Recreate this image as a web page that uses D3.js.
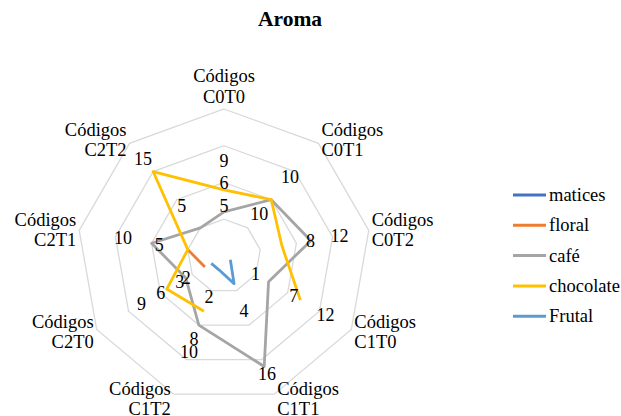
<!DOCTYPE html>
<html>
<head>
<meta charset="utf-8">
<script src="https://cdn.jsdelivr.net/npm/d3@7"></script>
<style>
  body { margin: 0; background: #fff; }
</style>
</head>
<body>
<div id="chart"></div>
<script>
// data
const ejes = ["C0T0", "C0T1", "C0T2", "C1T0", "C1T1", "C1T2", "C2T0", "C2T1", "C2T2"];
const nombres = ["matices", "floral", "café", "chocolate", "Frutal"];
const colores = ["#4472C4", "#ED7D31", "#A5A5A5", "#FFC000", "#5B9BD5"];
const matices = [null, null, null, null, null, null, null, null, null];
const floral = [null, null, null, null, null, null, 3, 5, null];
const cafe = [6, 10, 12, 7, 16, 10, 6, 10, 5];
const chocolate = [9, 10, 8, 12, null, 8, 9, 5, 15];
const frutal = [null, null, null, 1, 4, 2, 2, null, null];
const anillos = [5, 10, 15, 20];
// two labels in the picture that sit with no line under them
const etiquetasSueltas = [
  { eje: "C0T0", texto: "5", pos: 2.9 },
  { eje: "C0T1", texto: "10", pos: 3.5 }
];

const width = 621, height = 416;
const cx = 224, cy = 256, R = 147;
const fuente = "'Liberation Serif', 'Times New Roman', serif";

const svg = d3.select("#chart").append("svg")
  .attr("width", width)
  .attr("height", height)
  .attr("font-family", fuente)
  .style("font-family", fuente);

svg.append("text")
  .attr("x", 290)
  .attr("y", 26)
  .attr("text-anchor", "middle")
  .style("font-size", "21.5px")
  .style("font-weight", "bold")
  .text("Aroma");

const g = svg.append("g").attr("transform", `translate(${cx},${cy})`);

const r = d3.scaleLinear().domain([0, 20]).range([0, R]);
const ang = d3.scalePoint().domain(ejes.concat(["fin"])).range([0, 2 * Math.PI]);

function punto(eje, radio) {
  const a = ang(eje);
  return [radio * Math.sin(a), -radio * Math.cos(a)];
}

// grid rings
const anillo = d3.lineRadial()
  .angle(d => ang(d[0]))
  .radius(d => r(d[1]))
  .curve(d3.curveLinearClosed);

anillos.forEach(v => {
  g.append("path")
    .attr("d", anillo(ejes.map(e => [e, v])))
    .attr("fill", "none")
    .attr("stroke", "#d9d9d9")
    .attr("stroke-width", 1.3);
});

// axis labels
ejes.forEach(e => {
  const a = ang(e);
  const [vx, vy] = punto(e, r(20));
  const s = Math.sin(a), c = Math.cos(a);
  const t = g.append("text").style("font-size", "18.5px");
  if (Math.abs(s) < 0.01) {
    t.attr("text-anchor", "middle");
    t.append("tspan").attr("x", vx).attr("y", vy - 27).text("Códigos");
    t.append("tspan").attr("x", vx).attr("y", vy - 6).text(e);
  } else {
    const x = vx + (s > 0 ? 3 : -3);
    const mid = vy - 5 * c;
    t.attr("text-anchor", s > 0 ? "start" : "end")
     .attr("dominant-baseline", "central");
    t.append("tspan").attr("x", x).attr("y", mid - 10).text("Códigos");
    t.append("tspan").attr("x", x).attr("y", mid + 10).text(e);
  }
});

// series lines
const todas = [matices, floral, cafe, chocolate, frutal];
const linea = d3.lineRadial()
  .defined(d => d[1] != null)
  .angle(d => ang(d[0]))
  .radius(d => r(d[1]));

todas.forEach((vals, i) => {
  const pts = ejes.map((e, k) => [e, vals[k]]);
  pts.push(["fin", vals[0]]);
  g.append("path")
    .attr("d", linea(pts))
    .attr("fill", "none")
    .attr("stroke", colores[i])
    .attr("stroke-width", 2.8)
    .attr("stroke-linejoin", "round");
});

// data labels, pushed out along each spoke
const etiq = g.append("g").style("font-size", "18px").attr("text-anchor", "middle");
const usadas = new Set();
function etiqueta(eje, radio, texto) {
  const clave = eje + "|" + texto + "|" + Math.round(radio);
  if (usadas.has(clave)) return;
  usadas.add(clave);
  const [x, y] = punto(eje, radio);
  etiq.append("text")
    .attr("x", x)
    .attr("y", y)
    .attr("dominant-baseline", "central")
    .text(texto);
}
todas.forEach(vals => {
  vals.forEach((v, k) => {
    if (v == null) return;
    etiqueta(ejes[k], Math.min(r(v) + 29, 126), v);
  });
});
etiquetasSueltas.forEach(d => etiqueta(d.eje, r(d.pos) + 29, d.texto));

// legend
const ley = svg.append("g");
nombres.forEach((n, i) => {
  const y = 195 + i * 30.3;
  ley.append("line")
    .attr("x1", 513).attr("x2", 546)
    .attr("y1", y).attr("y2", y)
    .attr("stroke", colores[i])
    .attr("stroke-width", 3);
  ley.append("text")
    .attr("x", 549)
    .attr("y", y)
    .attr("dominant-baseline", "central")
    .style("font-size", "18.5px")
    .text(n);
});
</script>
</body>
</html>
